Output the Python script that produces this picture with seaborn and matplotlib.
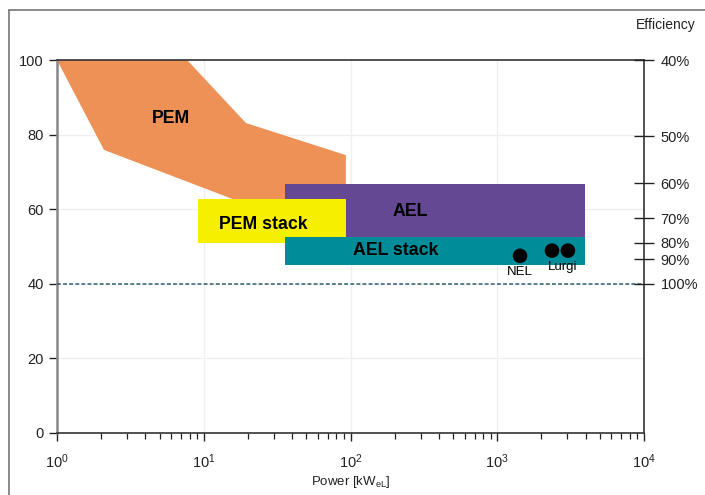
import numpy as np
import pandas as pd
import matplotlib
matplotlib.use("Agg")
import matplotlib.pyplot as plt
from matplotlib.lines import Line2D
import seaborn as sns

# ---- data ----
pem_x = [1.0, 7.7, 19.4, 93.0, 93.0, 40.0, 15.8, 2.09]
pem_y = [100.0, 100.0, 83.1, 74.5, 60.0, 60.0, 62.7, 75.9]

pem_stack_x = [9.14, 93.0]
pem_stack_y = [50.9, 62.7]

ael_x = [35.8, 3960.0]
ael_y = [52.5, 66.8]

ael_stack_x = [35.8, 3960.0]
ael_stack_y = [45.0, 52.5]

plant_names = ["NEL", "Lurgi", "Lurgi"]
plant_power = [1430.0, 2360.0, 3030.0]
plant_value = [47.5, 48.9, 48.9]

eff_pos = [100, 79.6, 67.0, 57.6, 51.0, 46.6, 40]
eff_labels = ["40%", "50%", "60%", "70%", "80%", "90%", "100%"]

y_ticks = [0, 20, 40, 60, 80, 100]
x_ticks = [1, 10, 100, 1000, 10000]

# ---- style ----
sns.set_style("white")
plt.rcParams["font.family"] = ["Liberation Sans", "DejaVu Sans"]
plt.rcParams["text.color"] = "black"

fig = plt.figure(figsize=(7.05, 4.95), dpi=100)
ax = fig.add_axes([57/705, 1 - 433/495, (644-57)/705, (433-60)/495])

ax.set_xscale("log")
ax.set_xlim(1, 10000)
ax.set_ylim(0, 100)

# grid
for yv in [20, 40, 60, 80]:
    ax.axhline(yv, color="#efefef", lw=0.9, zorder=0)
for xv in [10, 100, 1000]:
    ax.axvline(xv, color="#efefef", lw=0.9, zorder=0)

# regions
ax.fill(pem_x, pem_y, color="#EE9157", lw=0, zorder=2)
ax.fill_between(ael_x, ael_y[0], ael_y[1], color="#654893", lw=0, zorder=3)
ax.fill_between(pem_stack_x, pem_stack_y[0], pem_stack_y[1], color="#F6F000", lw=0, zorder=4)
ax.fill_between(ael_stack_x, ael_stack_y[0], ael_stack_y[1], color="#008C99", lw=0, zorder=5)

# dashed 100% efficiency line
ax.axhline(40, color="#2E5E6E", lw=1.1, ls=(0, (2.5, 1.5)), zorder=5)

# points
df = pd.DataFrame({"power": plant_power, "value": plant_value, "name": plant_names})
sns.scatterplot(data=df, x="power", y="value", ax=ax, color="black", s=110,
                edgecolor="none", zorder=6, legend=False)

# labels
bold = dict(fontsize=12.8, fontweight="bold", ha="center", va="center", zorder=7, color="black")
ax.text(6.0, 84.2, "PEM", **bold)
ax.text(25.3, 56.0, "PEM stack", **bold)
ax.text(254, 59.4, "AEL", **bold)
ax.text(204, 48.9, "AEL stack", **bold)
ax.text(1430, 43.1, "NEL", fontsize=9.5, ha="center", va="center", zorder=7, color="black")
ax.text(2800, 44.6, "Lurgi", fontsize=9.5, ha="center", va="center", zorder=7, color="black")

# axes styling
ax.set_xticks(x_ticks)
ax.set_yticks(y_ticks)
ax.tick_params(axis="both", which="major", direction="out", length=6, width=1.0,
               labelsize=10.5, colors="#222222", bottom=True, left=True)
ax.tick_params(axis="x", which="minor", direction="out", length=4, width=0.9,
               bottom=True, colors="#222222")
ax.tick_params(axis="x", which="major", pad=8)
ax.set_xlabel("Power [kW$_{\\mathregular{eL}}$]", fontsize=9.5, labelpad=2, color="#222222")
ax.set_ylabel("")

for s in ["bottom", "right", "top"]:
    ax.spines[s].set_color("#333333")
    ax.spines[s].set_linewidth(1.2)
ax.spines["left"].set_color("#888888")
ax.spines["left"].set_linewidth(1.8)

# right efficiency axis
ax2 = ax.twinx()
ax2.set_ylim(0, 100)
ax2.set_yticks(eff_pos)
ax2.set_yticklabels(eff_labels)
ax2.tick_params(axis="y", direction="inout", length=14, width=1.0, labelsize=10.5,
                colors="#222222", right=True, pad=5)
for s in ax2.spines.values():
    s.set_visible(False)
ax2.grid(False)
fig.text(666/705, 1 - 25/495, "Efficiency", fontsize=10, ha="center", va="center", color="#222222")

# outer frame (top and left edges)
fig.add_artist(Line2D([9/705, 1.0], [1 - 10/495, 1 - 10/495], color="#777777", lw=1.2))
fig.add_artist(Line2D([9/705, 9/705], [0.0, 1 - 10/495], color="#777777", lw=1.2))

fig.savefig("out.png", dpi=100)
